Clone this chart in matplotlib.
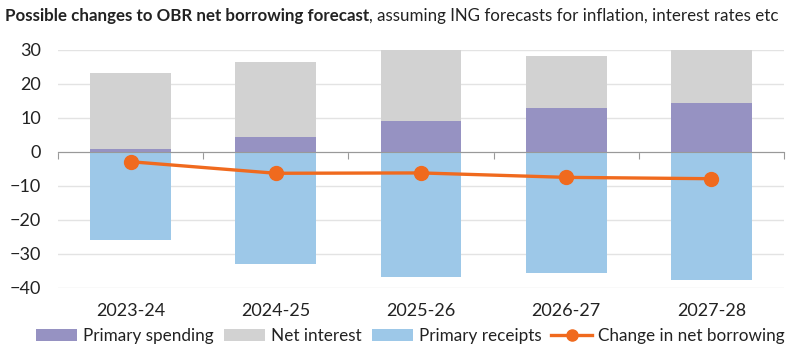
import numpy as np
import matplotlib.pyplot as plt
from matplotlib.transforms import blended_transform_factory

plt.rcParams['font.family'] = ['Lato', 'DejaVu Sans']

years = ['2023-24', '2024-25', '2025-26', '2026-27', '2027-28']
primary_spending = [0.7, 4.3, 9.0, 12.8, 14.4]
net_interest = [22.3, 22.0, 21.5, 15.3, 16.0]
primary_receipts = [-26.0, -33.1, -37.0, -35.8, -37.8]
change_borrowing = [-3.0, -6.4, -6.3, -7.6, -8.0]

c_spend = '#9692C2'
c_int = '#D2D2D2'
c_rec = '#9DC8E8'
c_line = '#F06A1E'

fig = plt.figure(figsize=(8, 3.56), dpi=100)
ax = fig.add_axes([0.0725, 0.1924, 0.9075, 0.6685])

x = np.arange(len(years))
w = 0.556
b1 = ax.bar(x, primary_spending, w, color=c_spend, label='Primary spending', zorder=2)
b2 = ax.bar(x, net_interest, w, bottom=primary_spending, color=c_int, label='Net interest', zorder=2)
b3 = ax.bar(x, primary_receipts, w, color=c_rec, label='Primary receipts', zorder=2)
ln, = ax.plot(x, change_borrowing, color=c_line, lw=2.4, marker='o', ms=10,
              label='Change in net borrowing', zorder=4)

ax.set_xlim(-0.5, len(years) - 0.5)
ax.set_ylim(-40, 30)
ax.set_yticks(np.arange(-40, 31, 10))
ax.yaxis.grid(True, color='#E3E3E3', lw=1)
ax.set_axisbelow(True)
ax.tick_params(axis='y', length=0, labelsize=13, pad=12, labelcolor='#222222')

for s in ['top', 'right', 'left']:
    ax.spines[s].set_visible(False)
ax.spines['bottom'].set_position(('data', 0))
ax.spines['bottom'].set_color('#999999')
ax.spines['bottom'].set_zorder(3)
ax.set_xticks(np.arange(-0.5, len(years), 1.0))
ax.tick_params(axis='x', length=5, color='#999999', labelbottom=False)

tr = blended_transform_factory(ax.transData, ax.transAxes)
for i, yr in enumerate(years):
    ax.text(i, -0.1, yr, transform=tr, ha='center', va='center', fontsize=13, color='#222222')

t1 = fig.text(0.006, 0.955, 'Possible changes to OBR net borrowing forecast', fontsize=12.2,
              fontweight='bold', color='#222222', va='center')
ax.annotate(', assuming ING forecasts for inflation, interest rates etc', xy=(1, 0.5),
            xycoords=t1, va='center', ha='left', fontsize=12.2, color='#222222',
            annotation_clip=False)

fig.legend([b1, b2, b3, ln], [h.get_label() for h in [b1, b2, b3, ln]],
           loc='center', bbox_to_anchor=(0.513, 0.055), ncol=4, frameon=False, fontsize=12.3,
           handlelength=2.4, handleheight=0.7, columnspacing=0.6, handletextpad=0.35,
           markerscale=0.8, labelcolor='#222222')

fig.savefig('out.png', dpi=100)
